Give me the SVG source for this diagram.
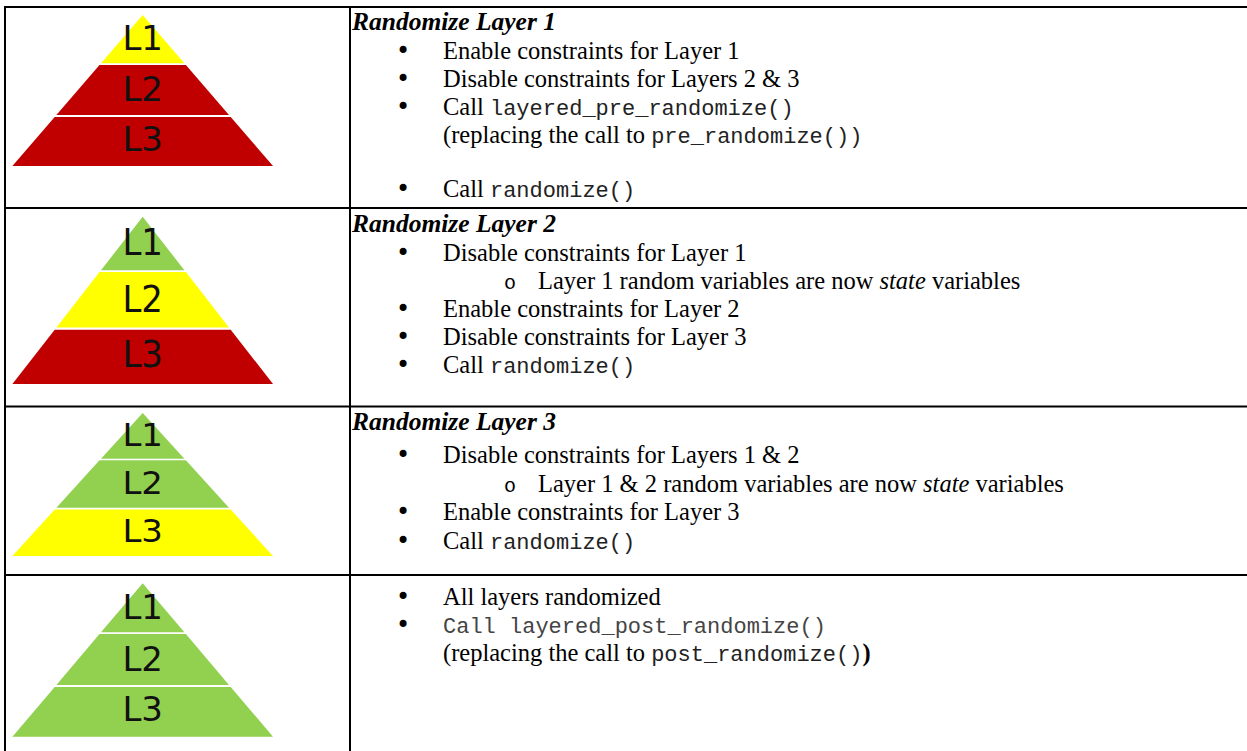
<svg xmlns="http://www.w3.org/2000/svg" width="1247" height="751" viewBox="0 0 1247 751">
<style>
.t{font-family:"Liberation Serif","Times New Roman",serif;font-size:24.5px;fill:#000}
.h{font-family:"Liberation Serif","Times New Roman",serif;font-size:25.5px;font-weight:bold;font-style:italic;fill:#000}
.m{font-family:"Liberation Mono","Courier New",monospace;font-size:22px;fill:#222}
.mg{fill:#444}
.bu{font-family:"DejaVu Sans",sans-serif;font-size:24px;text-anchor:middle;fill:#000}
.ob{font-family:"Liberation Mono",monospace;font-size:20px;text-anchor:middle;fill:#000}
.lbl{font-family:"DejaVu Sans",Verdana,sans-serif;font-size:34px;fill:#111;text-anchor:middle}
.grid{stroke:#000;stroke-width:2;fill:none}
.y{fill:#FFFF00}.r{fill:#C00000}.g{fill:#92D050}
</style>
<defs>
<polygon id="b1" points="0,0 41.7,48.3 -41.7,48.3"/>
<polygon id="b2" points="-43.2,50 43.2,50 86.3,100 -86.3,100"/>
<polygon id="b3" points="-88,102 88,102 130.3,151 -130.3,151"/>
</defs>
<rect width="1247" height="751" fill="#fff"/>
<g id="grid" class="grid">
<line x1="4" y1="7" x2="1247" y2="7"/>
<line x1="5" y1="6" x2="5" y2="751"/>
<line x1="350" y1="6" x2="350" y2="751"/>
<line x1="4" y1="208" x2="1247" y2="208"/>
<line x1="4" y1="406.5" x2="1247" y2="406.5"/>
<line x1="4" y1="575" x2="1247" y2="575"/>
</g>
<g id="pyramid1" transform="translate(142.7,15)">
<use href="#b1" class="y"/><use href="#b2" class="r"/><use href="#b3" class="r"/>
<text class="lbl" x="0" y="35">L1</text><text class="lbl" x="0" y="86">L2</text><text class="lbl" x="0" y="136">L3</text>
</g>
<g id="pyramid2" transform="translate(142.7,216.7) scale(1,1.108)">
<use href="#b1" class="g"/><use href="#b2" class="y"/><use href="#b3" class="r"/>
<text class="lbl" x="0" y="35">L1</text><text class="lbl" x="0" y="86">L2</text><text class="lbl" x="0" y="136">L3</text>
</g>
<g id="pyramid3" transform="translate(142.7,413) scale(1,0.947)">
<use href="#b1" class="g"/><use href="#b2" class="g"/><use href="#b3" class="y"/>
<text class="lbl" x="0" y="35">L1</text><text class="lbl" x="0" y="86">L2</text><text class="lbl" x="0" y="136">L3</text>
</g>
<g id="pyramid4" transform="translate(142.7,583.3) scale(1,1.016)">
<use href="#b1" class="g"/><use href="#b2" class="g"/><use href="#b3" class="g"/>
<text class="lbl" x="0" y="35">L1</text><text class="lbl" x="0" y="86">L2</text><text class="lbl" x="0" y="136">L3</text>
</g>
<g id="step1">
<text class="h" x="352" y="30">Randomize Layer 1</text>
<text class="bu" x="403" y="59">•</text><text class="t" x="443" y="59">Enable constraints for Layer 1</text>
<text class="bu" x="403" y="87">•</text><text class="t" x="443" y="87">Disable constraints for Layers 2 &amp; 3</text>
<text class="bu" x="403" y="115">•</text><text class="t" x="443" y="115">Call <tspan class="m">layered_pre_randomize()</tspan></text>
<text class="t" x="443" y="143">(replacing the call to <tspan class="m">pre_randomize())</tspan></text>
<text class="bu" x="403" y="197">•</text><text class="t" x="443" y="197">Call <tspan class="m">randomize()</tspan></text>
</g>
<g id="step2">
<text class="h" x="352" y="232">Randomize Layer 2</text>
<text class="bu" x="403" y="261">•</text><text class="t" x="443" y="261">Disable constraints for Layer 1</text>
<text class="ob" x="510" y="289">o</text><text class="t" x="538" y="289">Layer 1 random variables are now <tspan font-style="italic">state</tspan> variables</text>
<text class="bu" x="403" y="317">•</text><text class="t" x="443" y="317">Enable constraints for Layer 2</text>
<text class="bu" x="403" y="345">•</text><text class="t" x="443" y="345">Disable constraints for Layer 3</text>
<text class="bu" x="403" y="373">•</text><text class="t" x="443" y="373">Call <tspan class="m">randomize()</tspan></text>
</g>
<g id="step3">
<text class="h" x="352" y="430">Randomize Layer 3</text>
<text class="bu" x="403" y="463">•</text><text class="t" x="443" y="463">Disable constraints for Layers 1 &amp; 2</text>
<text class="ob" x="510" y="492">o</text><text class="t" x="538" y="492">Layer 1 &amp; 2 random variables are now <tspan font-style="italic">state</tspan> variables</text>
<text class="bu" x="403" y="520">•</text><text class="t" x="443" y="520">Enable constraints for Layer 3</text>
<text class="bu" x="403" y="549">•</text><text class="t" x="443" y="549">Call <tspan class="m">randomize()</tspan></text>
</g>
<g id="step4">
<text class="bu" x="403" y="605">•</text><text class="t" x="443" y="605">All layers randomized</text>
<text class="bu" x="403" y="633">•</text><text class="m mg" x="443" y="633">Call layered_post_randomize()</text>
<text class="t" x="443" y="661">(replacing the call to <tspan class="m">post_randomize()</tspan><tspan font-weight="bold">)</tspan></text>
</g>
</svg>
